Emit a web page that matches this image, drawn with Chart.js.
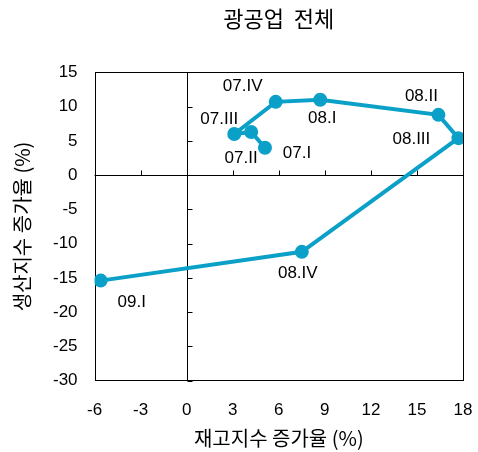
<!DOCTYPE html>
<html>
<head>
<meta charset="utf-8">
<script src="https://cdn.jsdelivr.net/npm/chart.js@4"></script>
<style>
  body { margin: 0; background: #fff; }
  #wrap { width: 478px; height: 452px; }
</style>
</head>
<body>
<div id="wrap"><canvas id="chart"></canvas></div>
<script>
var quarters = ["07.I", "07.II", "07.III", "07.IV", "08.I", "08.II", "08.III", "08.IV", "09.I"];
var inventory_growth = [5.1, 4.2, 3.1, 5.8, 8.7, 16.4, 17.7, 7.5, -5.6];
var production_growth = [4.0, 6.3, 6.0, 10.7, 11.0, 8.8, 5.4, -11.2, -15.4];
var x_ticks = [-6, -3, 0, 3, 6, 9, 12, 15, 18];
var y_ticks = [-30, -25, -20, -15, -10, -5, 0, 5, 10, 15];

// label offsets from point (px)
var label_offsets = [[32, 6], [-10, 26], [-15, -15], [-33, -16], [2, 19], [-17, -19], [-47, 1], [-4, 21], [31, 22]];

var font_family = "'Liberation Sans', Arial, 'Noto Sans CJK KR', sans-serif";
var kr_font = "'Noto Sans CJK KR', 'Liberation Sans', sans-serif";
var line_color = "#0aa0c8";

var points = quarters.map((q, i) => ({ x: inventory_growth[i], y: production_growth[i] }));

var framePlugin = {
    id: "frame",
    beforeDatasetsDraw: (chart) => {
        var ctx = chart.ctx;
        var area = chart.chartArea;
        var xs = chart.scales.x;
        var ys = chart.scales.y;
        ctx.save();
        ctx.strokeStyle = "#000";
        ctx.lineWidth = 1;
        ctx.strokeRect(Math.round(area.left) + 0.5, Math.round(area.top) + 0.5, Math.round(area.right - area.left), Math.round(area.bottom - area.top));
        var x0 = Math.round(xs.getPixelForValue(0)) + 0.5;
        var y0 = Math.round(ys.getPixelForValue(0)) + 0.5;
        ctx.beginPath();
        ctx.moveTo(x0, area.top);
        ctx.lineTo(x0, area.bottom);
        ctx.moveTo(area.left, y0);
        ctx.lineTo(area.right, y0);
        x_ticks.forEach((t) => {
            var px = Math.round(xs.getPixelForValue(t)) + 0.5;
            ctx.moveTo(px, y0);
            ctx.lineTo(px, y0 - 5);
        });
        y_ticks.forEach((t) => {
            var py = Math.round(ys.getPixelForValue(t)) + 0.5;
            ctx.moveTo(x0, py);
            ctx.lineTo(x0 + 5, py);
        });
        ctx.stroke();
        ctx.restore();
    },
    afterDatasetsDraw: (chart) => {
        var ctx = chart.ctx;
        var meta = chart.getDatasetMeta(0);
        ctx.save();
        ctx.fillStyle = "#000";
        ctx.font = "17px " + font_family;
        ctx.textAlign = "center";
        ctx.textBaseline = "middle";
        meta.data.forEach((pt, i) => {
            ctx.fillText(quarters[i], pt.x + label_offsets[i][0], pt.y + label_offsets[i][1]);
        });
        ctx.restore();
    }
};

var config = {
    type: "scatter",
    data: {
        datasets: [{
            data: points,
            showLine: true,
            borderColor: line_color,
            backgroundColor: line_color,
            borderWidth: 4,
            pointRadius: 5,
            pointHoverRadius: 5
        }]
    },
    options: {
        responsive: true,
        maintainAspectRatio: false,
        animation: false,
        layout: { padding: { top: 0, right: 15, bottom: 0, left: 6 } },
        plugins: {
            legend: { display: false },
            tooltip: { enabled: false },
            title: {
                display: true,
                fullSize: false,
                text: "광공업  전체",
                color: "#000",
                font: { family: kr_font, size: 22, weight: "normal" },
                padding: { top: 5, bottom: 41 }
            }
        },
        scales: {
            x: {
                type: "linear",
                min: -6,
                max: 18,
                afterBuildTicks: (axis) => { axis.ticks = x_ticks.map((v) => ({ value: v })); },
                grid: { display: false, drawTicks: true, tickLength: 17, tickColor: "rgba(0,0,0,0)" },
                border: { display: false },
                ticks: { color: "#000", padding: 3, font: { family: font_family, size: 17 } },
                title: {
                    display: true,
                    text: "재고지수 증가율 (%)",
                    color: "#000",
                    font: { family: kr_font, size: 20 },
                    padding: { top: 2, bottom: 2 }
                }
            },
            y: {
                type: "linear",
                min: -30,
                max: 15,
                afterBuildTicks: (axis) => { axis.ticks = y_ticks.map((v) => ({ value: v })); },
                grid: { display: false, drawTicks: true, tickLength: 14, tickColor: "rgba(0,0,0,0)" },
                border: { display: false },
                ticks: { color: "#000", padding: 3, font: { family: font_family, size: 17 } },
                title: {
                    display: true,
                    text: "생산지수 증가율 (%)",
                    color: "#000",
                    font: { family: kr_font, size: 20 },
                    padding: { bottom: 16 }
                }
            }
        }
    },
    plugins: [framePlugin]
};

new Chart(document.getElementById("chart"), config);
</script>
</body>
</html>
